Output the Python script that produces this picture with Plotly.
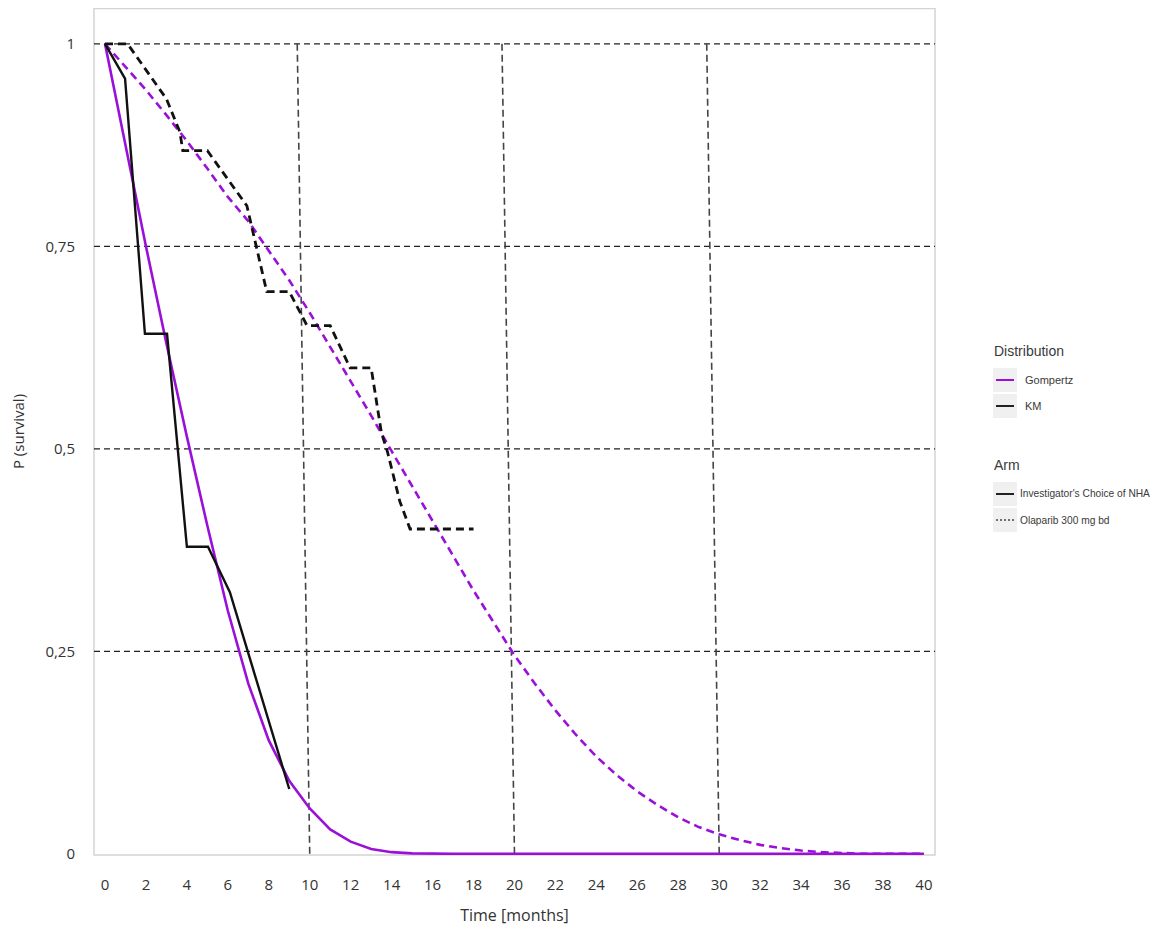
import plotly.graph_objects as go

# ---------------- data ----------------
months = list(range(0, 41))

gompertz_nha = [1.0, 0.875, 0.75, 0.63, 0.515, 0.405, 0.30, 0.21, 0.14, 0.09,
                0.056, 0.03, 0.015, 0.006, 0.002, 0.0005] + [0.0] * 25

gompertz_olaparib = [1.0, 0.972, 0.943, 0.912, 0.880, 0.846, 0.811, 0.781, 0.745, 0.708,
                     0.668, 0.626, 0.584, 0.541, 0.497, 0.454, 0.41, 0.367, 0.325, 0.285,
                     0.245, 0.21, 0.177, 0.147, 0.12, 0.097, 0.077, 0.06, 0.045, 0.033,
                     0.024, 0.017, 0.011, 0.007, 0.004, 0.002, 0.001, 0.0, 0.0, 0.0, 0.0]

km_nha_t = [0, 0.98, 1.95, 3.03, 4.0, 5.03, 6.1, 9.0]
km_nha_s = [1.0, 0.957, 0.642, 0.642, 0.379, 0.379, 0.323, 0.08]

km_ola_t = [0, 1.1, 3.0, 3.66, 3.8, 5.0, 6.93, 7.9, 9.0, 9.87, 11.0, 11.97, 13.0,
            13.5, 13.8, 14.4, 14.9, 18.0]
km_ola_s = [1.0, 1.0, 0.932, 0.891, 0.868, 0.868, 0.80, 0.694, 0.694, 0.652, 0.652,
            0.60, 0.60, 0.52, 0.496, 0.435, 0.401, 0.401]

x_ticks = list(range(0, 41, 2))
y_ticks = [0, 0.25, 0.5, 0.75, 1]
y_ticktext = ["0", "0,25", "0,5", "0,75", "1"]
h_grid = [0.25, 0.5, 0.75, 1]
v_grid = [10, 20, 30]
v_grid_skew = -0.61  # top of the vertical grid lines is shifted left in the reference

legend_dist = [("Gompertz", "#9b10d8", "solid"), ("KM", "#222222", "solid")]
legend_arm = [("Investigator's Choice of NHA", "#222222", "solid"),
              ("Olaparib 300 mg bd", "#444444", "dot")]

PURPLE = "#9b10d8"
BLACK = "#111111"

OFF = 8  # page body margin
W, H = 1150, 923
L, R, T, B = 86, 223, 0, 76
PW, PH = W - L - R, H - T - B

fig = go.Figure()

fig.add_trace(go.Scatter(x=months, y=gompertz_olaparib, mode="lines",
                         line=dict(color=PURPLE, width=2.6, dash="8px,5px"),
                         showlegend=False, hoverinfo="skip"))
fig.add_trace(go.Scatter(x=months, y=gompertz_nha, mode="lines",
                         line=dict(color=PURPLE, width=2.6),
                         showlegend=False, hoverinfo="skip"))
fig.add_trace(go.Scatter(x=km_ola_t, y=km_ola_s, mode="lines",
                         line=dict(color=BLACK, width=2.8, dash="8px,5px"),
                         showlegend=False, hoverinfo="skip"))
fig.add_trace(go.Scatter(x=km_nha_t, y=km_nha_s, mode="lines",
                         line=dict(color=BLACK, width=2.4),
                         showlegend=False, hoverinfo="skip"))


def px2x(px):
    return (px - OFF - L) / PW


def py2y(py):
    return (OFF + H - B - py) / PH


shapes = []
shapes.append(dict(type="rect", xref="paper", yref="paper",
                   x0=px2x(94), x1=px2x(935), y0=py2y(855), y1=py2y(8.5),
                   line=dict(color="#d4d4d4", width=1.5), layer="below"))
for yv in h_grid:
    shapes.append(dict(type="line", xref="paper", yref="y", x0=0, x1=1, y0=yv, y1=yv,
                       line=dict(color="#222222", width=1.3, dash="6px,4px"), layer="below"))
for xv in v_grid:
    shapes.append(dict(type="line", xref="x", yref="y", x0=xv + v_grid_skew, y0=1, x1=xv, y1=0,
                       line=dict(color="#444444", width=1.6, dash="7px,4px"), layer="below"))

annotations = []
LEG_FONT = "Liberation Sans, Arial, sans-serif"


def legend_block(title, title_py, items, first_py, step, text_px, size):
    annotations.append(dict(xref="paper", yref="paper", x=px2x(992), y=py2y(title_py),
                            text=title, showarrow=False, xanchor="left", yanchor="middle",
                            font=dict(family=LEG_FONT, size=14, color="#3a3a3a")))
    for i, (name, col, dash) in enumerate(items):
        cy = first_py + i * step
        shapes.append(dict(type="rect", xref="paper", yref="paper",
                           x0=px2x(993), x1=px2x(1017), y0=py2y(cy - 12), y1=py2y(cy + 12),
                           fillcolor="#f0f0f0", line=dict(width=0)))
        shapes.append(dict(type="line", xref="paper", yref="paper",
                           x0=px2x(996), x1=px2x(1014), y0=py2y(cy), y1=py2y(cy),
                           line=dict(color=col, width=2 if dash == "solid" else 1.5,
                                     dash="solid" if dash == "solid" else "2px,2px")))
        annotations.append(dict(xref="paper", yref="paper", x=px2x(text_px), y=py2y(cy),
                                text=name, showarrow=False, xanchor="left", yanchor="middle",
                                font=dict(family=LEG_FONT, size=size, color="#3a3a3a")))


legend_block("Distribution", 351, legend_dist, 380, 26, 1023, 11)
legend_block("Arm", 465, legend_arm, 494, 26, 1018, 10.2)

fig.update_layout(
    width=W, height=H,
    margin=dict(l=L, r=R, t=T, b=B),
    paper_bgcolor="white", plot_bgcolor="white",
    showlegend=False,
    shapes=shapes, annotations=annotations,
    xaxis=dict(range=[-0.537, 40.54], tickmode="array", tickvals=x_ticks,
               showgrid=False, zeroline=False, showline=False, ticks="",
               tickfont=dict(family="Open Sans, sans-serif", size=15, color="#333333"),
               ticklabelstandoff=19,
               title=dict(text="Time [months]", standoff=16,
                          font=dict(family="Open Sans, sans-serif", size=16, color="#333333"))),
    yaxis=dict(range=[-0.0015, 1.0442], tickmode="array", tickvals=y_ticks, ticktext=y_ticktext,
               showgrid=False, zeroline=False, showline=False, ticks="",
               tickfont=dict(family="Open Sans, sans-serif", size=15, color="#333333"),
               ticklabelstandoff=18,
               title=dict(text="P (survival)", standoff=20,
                          font=dict(family="Open Sans, sans-serif", size=15, color="#333333"))),
)

fig.write_html("out.html")
